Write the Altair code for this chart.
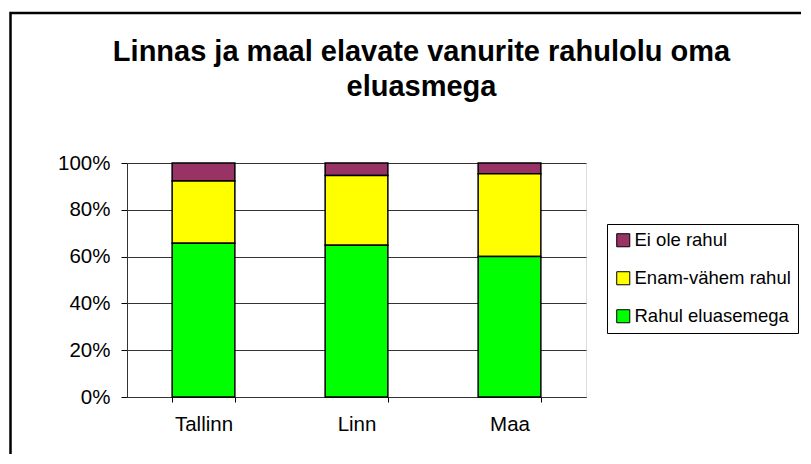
import altair as alt
import pandas as pd

categories = ["Tallinn", "Linn", "Maa"]
series = ["Ei ole rahul", "Enam-vähem rahul", "Rahul eluasemega"]
colors = ["#993366", "#FFFF00", "#00FF00"]
stack_rank = [2, 1, 0]
values = {
    "Rahul eluasemega": [65.7, 64.8, 60.0],
    "Enam-vähem rahul": [26.6, 29.9, 35.4],
    "Ei ole rahul": [7.7, 5.3, 4.6],
}
title_text = "Linnas ja maal elavate vanurite rahulolu oma\neluasmega"

rows = []
for s, r in zip(series, stack_rank):
    for c, v in zip(categories, values[s]):
        rows.append({"kategooria": c, "seeria": s, "väärtus": v / 100, "järjekord": r})
df = pd.DataFrame(rows)

FONT = "Liberation Sans"
FS = 20.5

bars = alt.Chart(df).mark_bar(stroke="black", strokeWidth=1.5).encode(
    x=alt.X("kategooria:N", sort=categories, title=None,
            scale=alt.Scale(paddingInner=0.59, paddingOuter=0.295),
            axis=alt.Axis(labelAngle=0, tickBand="extent", tickSize=5,
                          labelPadding=12, domainColor="#333333",
                          tickColor="#000000", labelFontSize=FS,
                          labelColor="#000000", labelFont=FONT, grid=False)),
    y=alt.Y("väärtus:Q", stack="zero", title=None,
            scale=alt.Scale(domain=[0, 1]),
            axis=alt.Axis(format="%", values=[0, 0.2, 0.4, 0.6, 0.8, 1.0],
                          tickSize=6, labelPadding=11, domainColor="#333333",
                          tickColor="#000000", gridColor="#333333",
                          gridWidth=1, labelFontSize=FS, labelColor="#000000",
                          labelFont=FONT)),
    color=alt.Color("seeria:N", title=None,
                    scale=alt.Scale(domain=series, range=colors),
                    legend=alt.Legend(orient="none", legendX=480, legendY=61,
                                      symbolType="square", symbolSize=170,
                                      symbolStrokeColor="black",
                                      symbolStrokeWidth=1,
                                      labelFontSize=18.5, labelFont=FONT,
                                      labelColor="#000000", rowPadding=19,
                                      labelOffset=2, padding=7,
                                      strokeColor="black", fillColor="white",
                                      labelLimit=400)),
    order=alt.Order("järjekord:Q", sort="ascending"),
)

frame = alt.Chart(alt.Data(values=[{}])).mark_rect(
    filled=False, stroke="black", strokeWidth=2.5
).encode(
    x=alt.value(-116.5), y=alt.value(-150), x2=alt.value(720), y2=alt.value(400)
)

title = alt.Chart(alt.Data(values=[{"t": title_text}])).mark_text(
    font=FONT, fontSize=29, fontWeight="bold", color="#000000",
    align="center", baseline="alphabetic", lineBreak="\n", lineHeight=35
).encode(
    text="t:N", x=alt.value(294.5), y=alt.value(-102)
)

chart = alt.layer(frame, bars, title).properties(
    width=459, height=234,
    padding={"left": 119, "top": 155, "right": 215, "bottom": 57},
    autosize=alt.AutoSizeParams(type="none"),
).configure_view(stroke="#999999", strokeWidth=2).configure(background="white")

chart.save("out.html", embed_options={"renderer": "svg", "actions": False})
